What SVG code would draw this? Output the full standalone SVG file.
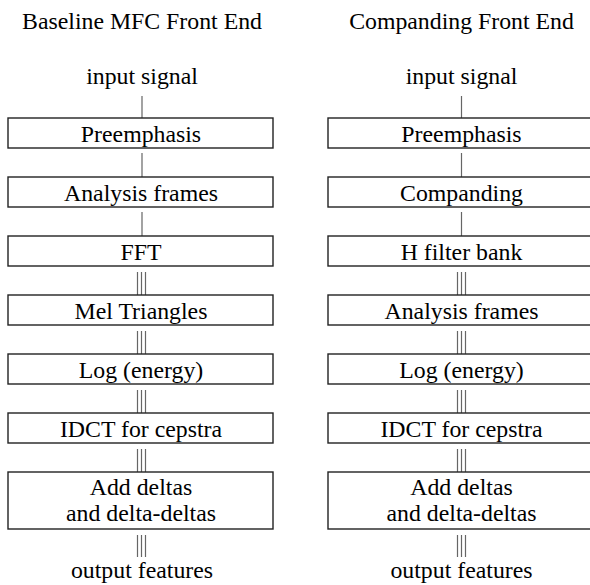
<svg xmlns="http://www.w3.org/2000/svg" width="590" height="585" viewBox="0 0 590 585">
<style>
.t{font-family:'Liberation Serif','Times New Roman',serif;font-size:23.8px;fill:#000;text-anchor:middle}
.box{fill:#fff;stroke:#222;stroke-width:1.4}
.c{stroke:#666;stroke-width:1.2;fill:none}
</style>
<rect width="590" height="585" fill="#fff"/>
<g id="connectors">
<path class="c" d="M142 96V118M142 153V177M142 212V236M137.5 272V295M141.5 272V295M145.5 272V295M137.5 331V354M141.5 331V354M145.5 331V354M137.5 390V413M141.5 390V413M145.5 390V413M137.5 449V472M141.5 449V472M145.5 449V472M137.5 535V557M141.5 535V557M145.5 535V557"/>
<path class="c" d="M461.5 96V118M461.5 153V177M461.5 212V236M457.5 272V295M461.5 272V295M465.5 272V295M457.5 331V354M461.5 331V354M465.5 331V354M457.5 390V413M461.5 390V413M465.5 390V413M457.5 449V472M461.5 449V472M465.5 449V472M457.5 535V557M461.5 535V557M465.5 535V557"/>
</g>
<g class="t" font-family="Liberation Serif, serif">
<g id="title-left"><text x="142" y="29">Baseline MFC Front End</text></g>
<g id="title-right"><text x="461.5" y="29">Companding Front End</text></g>
<g id="in-left"><text x="142" y="84">input signal</text></g>
<g id="in-right"><text x="461.5" y="84">input signal</text></g>
<g id="l1"><rect class="box" x="8" y="118" width="265" height="30"/><text x="141" y="142">Preemphasis</text></g>
<g id="l2"><rect class="box" x="8" y="177" width="265" height="30"/><text x="141" y="201">Analysis frames</text></g>
<g id="l3"><rect class="box" x="8" y="236" width="265" height="30"/><text x="141" y="260">FFT</text></g>
<g id="l4"><rect class="box" x="8" y="295" width="265" height="30"/><text x="141" y="319">Mel Triangles</text></g>
<g id="l5"><rect class="box" x="8" y="354" width="265" height="30"/><text x="141" y="378">Log (energy)</text></g>
<g id="l6"><rect class="box" x="8" y="413" width="265" height="30"/><text x="141" y="437">IDCT for cepstra</text></g>
<g id="l7"><rect class="box" x="8" y="472" width="265" height="57"/><text x="141" y="495">Add deltas</text><text x="141" y="521">and delta-deltas</text></g>
<g id="r1"><rect class="box" x="328" y="118" width="265" height="30"/><text x="461.5" y="142">Preemphasis</text></g>
<g id="r2"><rect class="box" x="328" y="177" width="265" height="30"/><text x="461.5" y="201">Companding</text></g>
<g id="r3"><rect class="box" x="328" y="236" width="265" height="30"/><text x="461.5" y="260">H filter bank</text></g>
<g id="r4"><rect class="box" x="328" y="295" width="265" height="30"/><text x="461.5" y="319">Analysis frames</text></g>
<g id="r5"><rect class="box" x="328" y="354" width="265" height="30"/><text x="461.5" y="378">Log (energy)</text></g>
<g id="r6"><rect class="box" x="328" y="413" width="265" height="30"/><text x="461.5" y="437">IDCT for cepstra</text></g>
<g id="r7"><rect class="box" x="328" y="472" width="265" height="57"/><text x="461.5" y="495">Add deltas</text><text x="461.5" y="521">and delta-deltas</text></g>
<g id="out-left"><text x="142" y="578">output features</text></g>
<g id="out-right"><text x="461.5" y="578">output features</text></g>
</g>
</svg>
